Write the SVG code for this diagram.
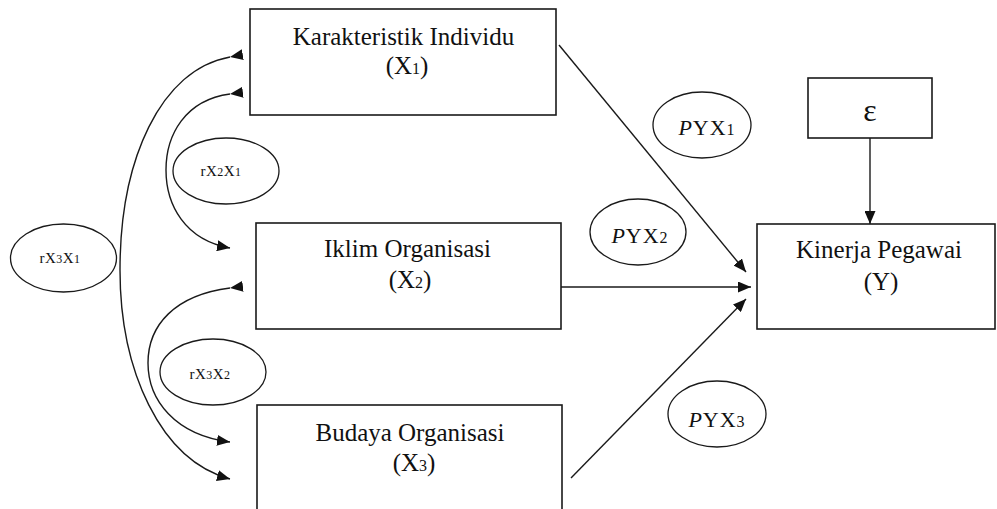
<svg xmlns="http://www.w3.org/2000/svg" width="997" height="509" viewBox="0 0 997 509">
<style>
.box{fill:#fff;stroke:#1a1a1a;stroke-width:1.6}
.ell{fill:#fff;stroke:#1a1a1a;stroke-width:1.3}
.t{font-family:"Liberation Serif","Times New Roman",serif;font-size:25px;fill:#111;text-anchor:middle}
.s{font-family:"Liberation Serif","Times New Roman",serif;font-size:15px;fill:#111;text-anchor:middle;letter-spacing:0.5px}
.p{font-family:"Liberation Serif","Times New Roman",serif;font-size:22px;fill:#111;text-anchor:middle;letter-spacing:1px}
.sub{font-size:16px}
.sub2{font-size:12px}
.con{fill:none;stroke:#1a1a1a;stroke-width:1.4}
</style>
<defs>
<marker id="ah" viewBox="0 0 13 11" refX="13" refY="5.5" markerWidth="13" markerHeight="11" markerUnits="userSpaceOnUse" orient="auto">
<path d="M0,0 L13,5.5 L0,11 z" fill="#111"/>
</marker>
</defs>
<rect width="997" height="509" fill="#fff"/>

<g id="connectors">
<path class="con" d="M230 57 C160 70,120 160,120 270 C120 370,160 460,230 479" marker-start="url(#ah)" marker-end="url(#ah)"/>
<path class="con" d="M230 94 C185 100,166 135,166 170 C166 205,185 240,230 248" marker-start="url(#ah)" marker-end="url(#ah)"/>
<path class="con" d="M230 288 C175 295,148 325,148 363 C148 400,175 435,230 442" marker-start="url(#ah)" marker-end="url(#ah)"/>
<line class="con" x1="559" y1="45" x2="746" y2="272" marker-end="url(#ah)"/>
<line class="con" x1="561" y1="287" x2="751" y2="287" marker-end="url(#ah)"/>
<line class="con" x1="571" y1="478" x2="746" y2="299" marker-end="url(#ah)"/>
<line class="con" x1="870" y1="138" x2="870" y2="224" marker-end="url(#ah)"/>
</g>

<g id="x1">
<rect class="box" x="250" y="9" width="306" height="106"/>
<text class="t" x="403.5" y="45">Karakteristik Individu</text>
<text class="t" x="407" y="74">(X<tspan class="sub">1</tspan>)</text>
</g>

<g id="x2">
<rect class="box" x="256" y="223" width="305" height="106"/>
<text class="t" x="407.5" y="257">Iklim Organisasi</text>
<text class="t" x="410" y="288">(X<tspan class="sub">2</tspan>)</text>
</g>

<g id="x3">
<rect class="box" x="257" y="405" width="305" height="110"/>
<text class="t" x="410" y="441">Budaya Organisasi</text>
<text class="t" x="414" y="471">(X<tspan class="sub">3</tspan>)</text>
</g>

<g id="y">
<rect class="box" x="757" y="224" width="238" height="105"/>
<text class="t" x="879" y="258">Kinerja Pegawai</text>
<text class="t" x="881" y="290">(Y)</text>
</g>

<g id="eps">
<rect class="box" x="808" y="78" width="124" height="60"/>
<text class="t" x="870" y="121" style="font-size:32px">ε</text>
</g>

<g id="pyx1">
<ellipse class="ell" cx="702" cy="125" rx="49" ry="33"/>
<text class="p" x="707" y="135"><tspan font-style="italic">P</tspan>YX<tspan class="sub">1</tspan></text>
</g>

<g id="pyx2">
<ellipse class="ell" cx="638" cy="232" rx="48" ry="33"/>
<text class="p" x="640" y="243"><tspan font-style="italic">P</tspan>YX<tspan class="sub">2</tspan></text>
</g>

<g id="pyx3">
<ellipse class="ell" cx="717" cy="414" rx="49" ry="33"/>
<text class="p" x="717" y="427"><tspan font-style="italic">P</tspan>YX<tspan class="sub">3</tspan></text>
</g>

<g id="rx2x1">
<ellipse class="ell" cx="226" cy="171" rx="53" ry="33"/>
<text class="s" x="221" y="176">rX<tspan class="sub2">2</tspan>X<tspan class="sub2">1</tspan></text>
</g>

<g id="rx3x1">
<ellipse class="ell" cx="63.5" cy="258" rx="53" ry="34"/>
<text class="s" x="60" y="263">rX<tspan class="sub2">3</tspan>X<tspan class="sub2">1</tspan></text>
</g>

<g id="rx3x2">
<ellipse class="ell" cx="213" cy="372" rx="53" ry="33"/>
<text class="s" x="210" y="379">rX<tspan class="sub2">3</tspan>X<tspan class="sub2">2</tspan></text>
</g>
</svg>
